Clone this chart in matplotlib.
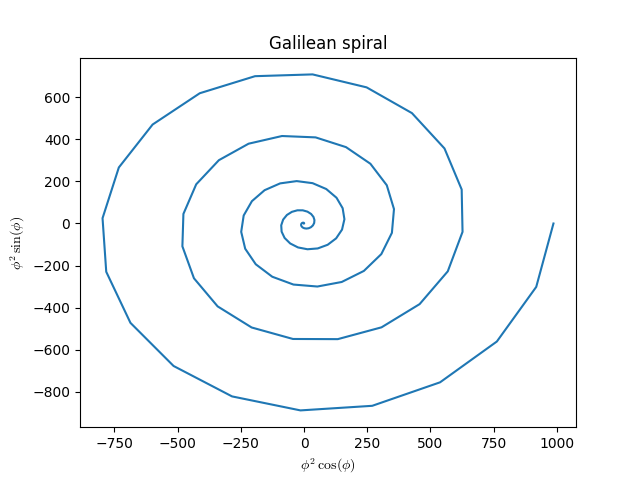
import numpy as np
import matplotlib
matplotlib.use("Agg")
import matplotlib.pyplot as plt

plt.rcParams["mathtext.fontset"] = "cm"

# angle samples along the spiral: 5 turns, 100 samples
phi = np.linspace(0, 10 * np.pi, 100)
radius = phi ** 2

fig, ax = plt.subplots(figsize=(6.4, 4.8), dpi=100)
ax.plot(radius * np.cos(phi), radius * np.sin(phi))
ax.set_xlabel(r"$\phi^2\,\cos(\phi)$")
ax.set_ylabel(r"$\phi^2\,\sin(\phi)$")
ax.set_title("Galilean spiral")

fig.savefig("out.png", dpi=100)
